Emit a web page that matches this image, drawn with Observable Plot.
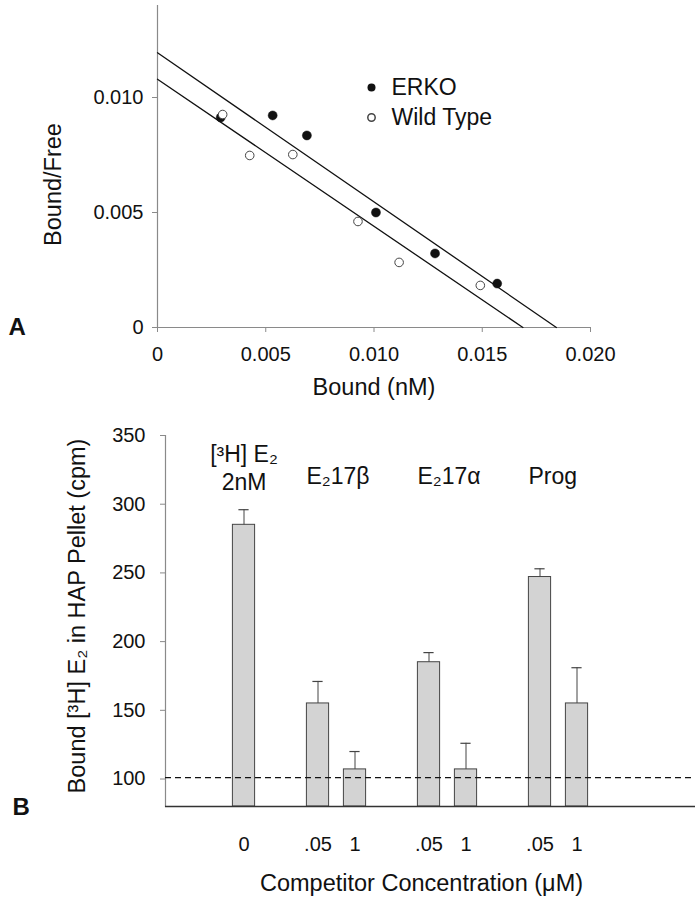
<!DOCTYPE html>
<html><head><meta charset="utf-8">
<script src="https://cdn.jsdelivr.net/npm/d3@7"></script>
<script src="https://cdn.jsdelivr.net/npm/@observablehq/plot@0.6"></script>
<style>
body{margin:0;background:#fff;}
#chart{width:700px;height:899px;position:relative;overflow:hidden;background:#fff;}
#chart svg{display:block;}
</style></head><body><div id="chart"></div>
<script>
// ---------- Panel A: Scatchard plot ----------
const erkoBound = [0.00292, 0.00532, 0.0069, 0.01009, 0.01282, 0.01569];
const erkoRatio = [0.00913, 0.00922, 0.00835, 0.0050, 0.00322, 0.00191];
const wtBound   = [0.00301, 0.00426, 0.00625, 0.00926, 0.01116, 0.01491];
const wtRatio   = [0.00926, 0.00748, 0.00752, 0.00461, 0.00283, 0.00183];
const seriesNames = ["ERKO", "Wild Type"];
const xTicksA = [0, 0.005, 0.010, 0.015, 0.020];
const yTicksA = [0, 0.005, 0.010];

// ---------- Panel B: competition bars ----------
const groupLabels = ["[³H] E₂\n2nM", "E₂17β", "E₂17α", "Prog"];
const barGroup   = [0, 1, 1, 2, 2, 3, 3];
const concLabels = ["0", ".05", "1", ".05", "1", ".05", "1"];
const boundCpm   = [285, 155, 107, 185, 107, 247, 155];
const errCpm     = [11, 16, 13, 7, 19, 6, 26];
const nonspecific = 101;
const yTicksB = [100, 150, 200, 250, 300, 350];

const FONT = '"Liberation Sans", Arial, Helvetica, sans-serif';
const chart = document.getElementById("chart");

// least-squares line extended from x=0 to its x-intercept
function fitLine(xs, ys, name) {
  const mx = d3.mean(xs), my = d3.mean(ys);
  const sxy = d3.sum(xs, (x, i) => (x - mx) * (ys[i] - my));
  const sxx = d3.sum(xs, x => (x - mx) ** 2);
  const m = sxy / sxx, b = my - m * mx;
  return [{series: name, x: 0, y: b}, {series: name, x: -b / m, y: 0}];
}
const ptsErko = erkoBound.map((x, i) => ({x, y: erkoRatio[i]}));
const ptsWt = wtBound.map((x, i) => ({x, y: wtRatio[i]}));
const regLines = [...fitLine(erkoBound, erkoRatio, seriesNames[0]), ...fitLine(wtBound, wtRatio, seriesNames[1])];
const fmtA = d => d === 0 ? "0" : d3.format(".3f")(d);

const plotA = Plot.plot({
  width: 700, height: 410,
  marginLeft: 157, marginRight: 110, marginTop: 5, marginBottom: 83,
  style: {fontFamily: FONT, fontSize: "20px", color: "#111", background: "white", overflow: "visible"},
  x: {domain: [0, 0.02]},
  y: {domain: [0, 0.014]},
  marks: [
    Plot.ruleY([0], {stroke: "#8a8a8a", strokeWidth: 1.2}),
    Plot.ruleX([0], {stroke: "#8a8a8a", strokeWidth: 1.2}),
    Plot.axisX({ticks: xTicksA, tickFormat: fmtA, tickSize: 5, tickPadding: 14, label: null, fontSize: 20, stroke: "#8a8a8a"}),
    Plot.axisY({ticks: yTicksA, tickFormat: fmtA, tickSize: 5, tickPadding: 9, label: null, fontSize: 20, stroke: "#8a8a8a"}),
    Plot.line(regLines, {x: "x", y: "y", z: "series", stroke: "#111", strokeWidth: 1.3}),
    Plot.dot(ptsErko, {x: "x", y: "y", r: 4.5, fill: "#111", stroke: "#111", strokeWidth: 0.5}),
    Plot.dot(ptsWt, {x: "x", y: "y", r: 4.3, fill: "white", stroke: "#444", strokeWidth: 1}),
    // legend
    Plot.dot([seriesNames[0]], {frameAnchor: "top-left", dx: 214, dy: 82, r: 4, fill: "#111"}),
    Plot.dot([seriesNames[1]], {frameAnchor: "top-left", dx: 214, dy: 112, r: 3.7, fill: "white", stroke: "#444"}),
    Plot.text([seriesNames[0]], {frameAnchor: "top-left", dx: 234, dy: 82, text: d => d, textAnchor: "start", lineAnchor: "middle", fontSize: 23}),
    Plot.text([seriesNames[1]], {frameAnchor: "top-left", dx: 234, dy: 112, text: d => d, textAnchor: "start", lineAnchor: "middle", fontSize: 23}),
    // axis titles & panel letter
    Plot.text(["Bound (nM)"], {frameAnchor: "bottom", dy: 60, text: d => d, textAnchor: "middle", lineAnchor: "middle", fontSize: 23.5}),
    Plot.text(["Bound/Free"], {frameAnchor: "left", dx: -104, dy: 18, rotate: -90, text: d => d, textAnchor: "middle", lineAnchor: "middle", fontSize: 23.5}),
    Plot.text(["A"], {frameAnchor: "bottom-left", dx: -149, dy: 0, text: d => d, textAnchor: "start", lineAnchor: "middle", fontSize: 24, fontWeight: "bold"})
  ]
});
chart.appendChild(plotA);

// ---------- Panel B ----------
const bars = concLabels.map((c, i) => ({
  key: `${barGroup[i]}:${c}`, group: barGroup[i], conc: c, mean: boundCpm[i], err: errCpm[i]
}));
const grouped = d3.groups(bars, d => d.group);
const slots = ["s0", "s1"];
grouped.forEach(([g, arr], j) => {
  if (j > 0) slots.push("s" + slots.length);
  arr.forEach(d => slots.push(d.key));
});
const concByKey = new Map(bars.map(d => [d.key, d.conc]));
const groupFirst = grouped.map(([g, arr]) => ({key: arr[0].key, label: groupLabels[g], n: arr.length}));

const W = 700, mL = 165, mR = 5;
const step = (W - mL - mR) / 14;
const yDomB = [80, 350];

const plotB = Plot.plot({
  width: W, height: 489,
  marginLeft: mL, marginRight: mR, marginTop: 25, marginBottom: 93,
  style: {fontFamily: FONT, fontSize: "20px", color: "#111", background: "white", overflow: "visible"},
  x: {type: "band", domain: slots, padding: 0, range: [mL - step / 2, mL - step / 2 + slots.length * step]},
  y: {domain: yDomB},
  marks: [
    Plot.frame({anchor: "left", stroke: "#8a8a8a", strokeWidth: 1.2}),
    Plot.axisY({ticks: yTicksB, tickSize: 5, tickPadding: 15, label: null, fontSize: 20, stroke: "#8a8a8a"}),
    Plot.axisX({ticks: bars.map(d => d.key), tickFormat: k => concByKey.get(k), tickSize: 0, tickPadding: 30, label: null, fontSize: 20}),
    Plot.barY(bars, {x: "key", y1: yDomB[0], y2: "mean", fill: "#d3d3d3", stroke: "#444", strokeWidth: 1, insetLeft: 7.4, insetRight: 7.4}),
    Plot.ruleX(bars, {x: "key", y1: "mean", y2: d => d.mean + d.err, stroke: "#444", strokeWidth: 1}),
    Plot.tickY(bars, {x: "key", y: d => d.mean + d.err, stroke: "#444", strokeWidth: 1.2, insetLeft: 13.4, insetRight: 13.4}),
    Plot.ruleY([nonspecific], {stroke: "#111", strokeWidth: 1.3, strokeDasharray: "6,4"}),
    Plot.ruleY([yDomB[0]], {stroke: "#333", strokeWidth: 1.3}),
    Plot.text(groupFirst.filter(d => d.n === 1), {x: "key", text: "label", frameAnchor: "top", dy: 7, lineAnchor: "top", textAnchor: "middle", lineHeight: 1.2, fontSize: 23}),
    Plot.text(groupFirst.filter(d => d.n > 1), {x: "key", text: "label", frameAnchor: "top", dy: 32, dx: -11.5, lineAnchor: "top", textAnchor: "start", fontSize: 23}),
    Plot.text(["Competitor Concentration (μM)"], {frameAnchor: "bottom", dx: -9, dy: 77, text: d => d, textAnchor: "middle", lineAnchor: "middle", fontSize: 23.5}),
    Plot.text(["Bound [³H] E₂ in HAP Pellet (cpm)"], {frameAnchor: "left", dx: -88, dy: -5, rotate: -90, text: d => d, textAnchor: "middle", lineAnchor: "middle", fontSize: 23.5}),
    Plot.text(["B"], {frameAnchor: "bottom-left", dx: -153, dy: 1, text: d => d, textAnchor: "start", lineAnchor: "middle", fontSize: 24, fontWeight: "bold"})
  ]
});
chart.appendChild(plotB);
</script>
</body></html>
